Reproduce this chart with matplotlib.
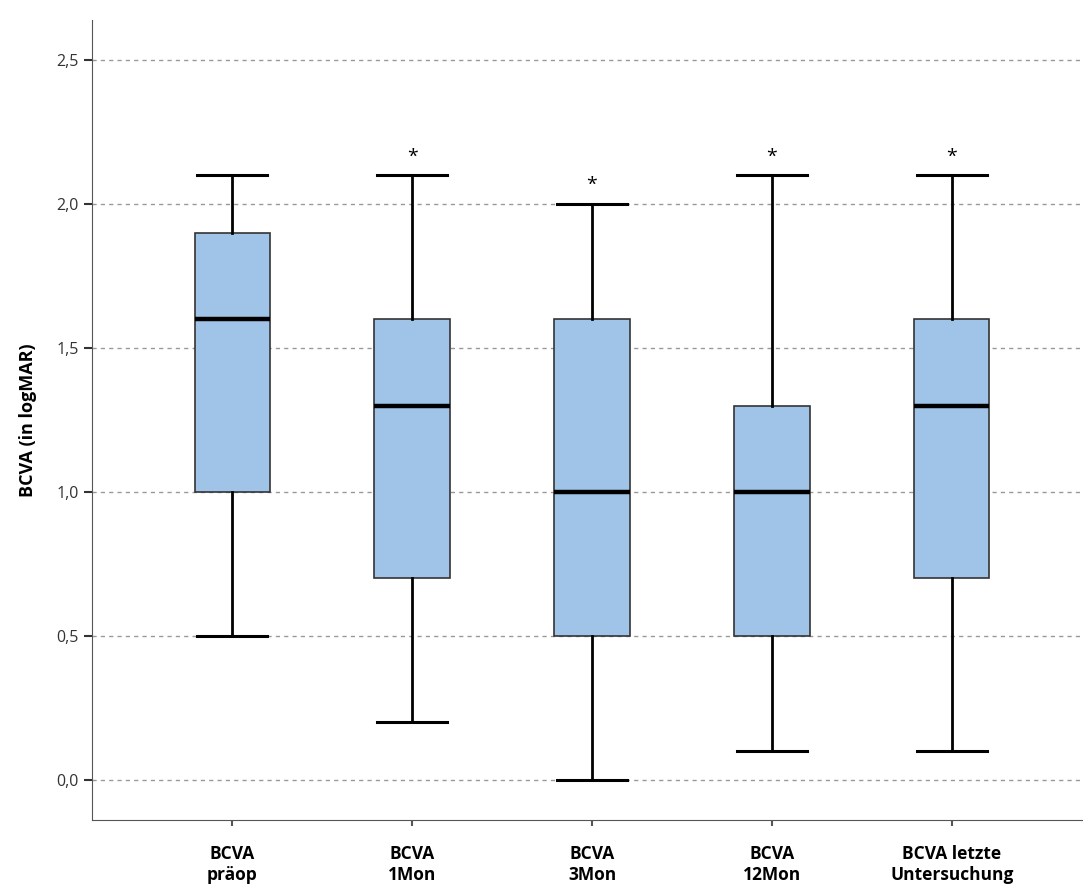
import matplotlib
matplotlib.use("Agg")
import matplotlib.pyplot as plt

plt.rcParams['font.family'] = ['Open Sans', 'DejaVu Sans']

labels = ["BCVA\npräop", "BCVA\n1Mon", "BCVA\n3Mon", "BCVA\n12Mon", "BCVA letzte\nUntersuchung"]
whislo = [0.5, 0.2, 0.0, 0.1, 0.1]
q1 = [1.0, 0.7, 0.5, 0.5, 0.7]
med = [1.6, 1.3, 1.0, 1.0, 1.3]
q3 = [1.9, 1.6, 1.6, 1.3, 1.6]
whishi = [2.1, 2.1, 2.0, 2.1, 2.1]
stars = [False, True, True, True, True]

stats = []
for i in range(len(labels)):
    stats.append({"whislo": whislo[i], "q1": q1[i], "med": med[i],
                  "q3": q3[i], "whishi": whishi[i], "fliers": []})

fig = plt.figure(figsize=(10.83, 8.88), dpi=100)
ax = fig.add_axes([0.085, 0.0766, 0.915, 0.9009])

for y in [0.0, 0.5, 1.0, 1.5, 2.0, 2.5]:
    ax.axhline(y, color="#999999", ls=(0, (3, 3)), lw=1, zorder=0)

pos = list(range(len(labels)))
ax.bxp(stats, positions=pos, widths=0.42, patch_artist=True, showfliers=False,
       boxprops=dict(facecolor="#9fc4e8", edgecolor="#333333", lw=1.2),
       medianprops=dict(color="black", lw=3.2),
       whiskerprops=dict(color="black", lw=2),
       capprops=dict(color="black", lw=2.2),
       capwidths=0.39)

for i, s in enumerate(stars):
    if s:
        ax.text(pos[i], whishi[i] + 0.035, "*", ha="center", va="bottom",
                fontsize=14)

ax.set_xlim(-0.78, 4.73)
ax.set_ylim(-0.139, 2.64)
ax.set_yticks([0.0, 0.5, 1.0, 1.5, 2.0, 2.5])
ax.set_yticklabels(["0,0", "0,5", "1,0", "1,5", "2,0", "2,5"], fontsize=11.5, color="#333333")
ax.set_xticks(pos)
ax.set_xticklabels(labels, fontsize=12.5, fontweight="bold", linespacing=1.25)
ax.tick_params(axis="y", length=6, width=1.5, color="#333333")
ax.tick_params(axis="x", length=4, width=1.5, color="#555555", pad=14)
ax.set_ylabel("BCVA (in logMAR)", fontsize=13, fontweight="bold", labelpad=14)
ax.spines["top"].set_visible(False)
ax.spines["right"].set_visible(False)
ax.spines["left"].set_color("#555555")
ax.spines["bottom"].set_color("#555555")

fig.savefig("out.png", dpi=100)
